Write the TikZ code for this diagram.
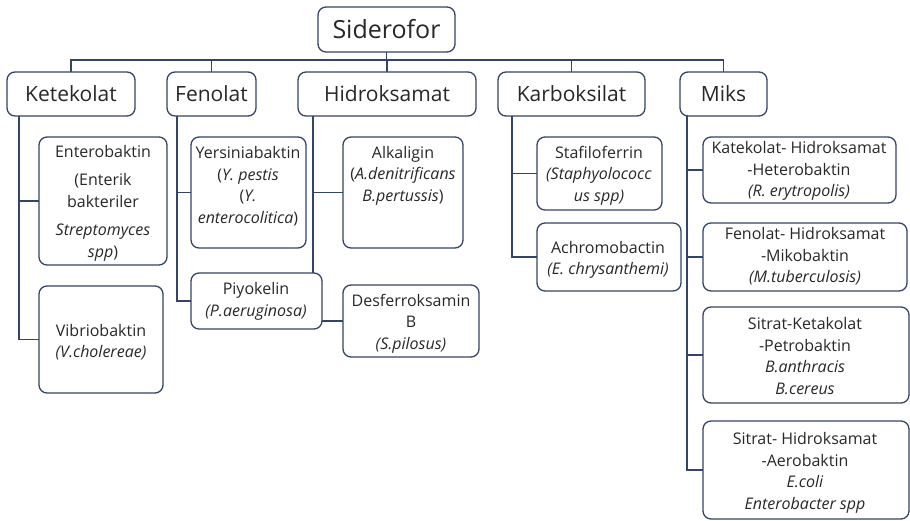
\documentclass[tikz,border=0pt]{standalone}
\usepackage{fontspec}
\setmainfont{Open Sans}
\usetikzlibrary{backgrounds,calc}
\definecolor{bord}{RGB}{52,68,104}
\definecolor{txt}{RGB}{40,40,40}
\newcommand\mybox[5]{\node[box, minimum width={(#4-#2)*1pt}, minimum height={(#5-#3)*1pt}] (#1) at ({(#2+#4)/2},{(#3+#5)/2}) {};}
\begin{document}
\begin{tikzpicture}[x=1pt,y=-1pt,
  box/.style={draw=bord, line width=1.3pt, rounded corners=8pt, fill=white, inner sep=0pt, outer sep=0pt},
  lbl/.style={text=txt, align=center, inner sep=0pt, font=\fontsize{16}{21.5}\selectfont},
  lvl/.style={text=txt, inner sep=0pt, font=\fontsize{21}{25}\selectfont},
  conn/.style={draw=bord, line width=1.3pt}]
\useasboundingbox (0,0) rectangle (910,521);
% boxes
\mybox{sid}{318}{7}{455}{52}
\mybox{ket}{7}{72}{135}{116}
\mybox{fen}{167}{72}{256}{116}
\mybox{hid}{298}{72}{476}{116}
\mybox{kar}{498}{72}{645}{116}
\mybox{miks}{680}{72}{767}{116}
\mybox{ent}{39}{137}{167}{265}
\mybox{vib}{39}{286}{163}{393}
\mybox{yer}{191}{137}{306}{248}
\mybox{piy}{191}{273}{322}{329}
\mybox{alk}{343}{137}{463}{248}
\mybox{des}{343}{285}{479}{357}
\mybox{sta}{537}{137}{662}{210}
\mybox{ach}{537}{223}{681}{291}
\mybox{mA}{703}{137}{896}{203}
\mybox{mB}{703}{223}{907}{291}
\mybox{mC}{703}{307}{909}{403}
\mybox{mD}{703}{421}{909}{519}
% texts
\node[lvl, font=\fontsize{25}{30}\selectfont] at (sid) {Siderofor};
\node[lvl] at (ket) {Ketekolat};
\node[lvl] at (fen) {Fenolat};
\node[lvl] at (hid) {Hidroksamat};
\node[lvl] at (kar) {Karboksilat};
\node[lvl] at (miks) {Miks};
\node[lbl] at (103,203) {Enterobaktin\\[7pt](Enterik\\bakteriler\\[7pt]\textit{Streptomyces}\\\textit{spp})};
\node[lbl] at (101,342) {Vibriobaktin\\\textit{(V.cholereae)}};
\node[lbl] at (248,186) {Yersiniabaktin\\(\textit{Y. pestis}\\(\textit{Y.}\\\textit{enterocolitica})};
\node[lbl] at (256,301.5) {Piyokelin\\\textit{(P.aeruginosa)}};
\node[lbl] at (403,175.5) {Alkaligin\\(\textit{A.denitrificans}\\\textit{B.pertussis})};
\node[lbl] at (411,323.5) {Desferroksamin\\B\\\textit{(S.pilosus)}};
\node[lbl] at (599,175.5) {Stafiloferrin\\\textit{(Staphyolococc}\\\textit{us spp)}};
\node[lbl] at (608,260) {Achromobactin\\\textit{(E. chrysanthemi)}};
\node[lbl] at (799,171) {Katekolat- Hidroksamat\\-Heterobaktin\\\textit{(R. erytropolis)}};
\node[lbl] at (805,256.5) {Fenolat- Hidroksamat\\-Mikobaktin\\\textit{(M.tuberculosis)}};
\node[lbl] at (805,356) {Sitrat-Ketakolat\\-Petrobaktin\\\textit{B.anthracis}\\\textit{B.cereus}};
\node[lbl] at (805,473) {Sitrat- Hidroksamat\\-Aerobaktin\\\textit{E.coli}\\\textit{Enterobacter spp}};
% connectors
\begin{scope}[on background layer]
\coordinate (bus) at (0,60);
\foreach \n in {ket,fen,hid,kar,miks}
  \draw[conn] (sid.south) -- (sid.south |- bus) -| (\n.north);
\draw[conn] ([xshift=12pt]ket.south west) |- (ent.west);
\draw[conn] ([xshift=12pt]ket.south west) |- (vib.west);
\draw[conn] ([xshift=10pt]fen.south west) |- (yer.west);
\draw[conn] ([xshift=10pt]fen.south west) |- (piy.west);
\draw[conn] ([xshift=15pt]hid.south west) |- (alk.west);
\draw[conn] ([xshift=15pt]hid.south west) |- (des.west);
\draw[conn] ([xshift=14pt]kar.south west) |- (sta.west);
\draw[conn] ([xshift=14pt]kar.south west) |- (ach.west);
\draw[conn] ([xshift=7pt]miks.south west) |- (mA.west);
\draw[conn] ([xshift=7pt]miks.south west) |- (mB.west);
\draw[conn] ([xshift=7pt]miks.south west) |- (mC.west);
\draw[conn] ([xshift=7pt]miks.south west) |- (mD.west);
\end{scope}
\end{tikzpicture}
\end{document}
